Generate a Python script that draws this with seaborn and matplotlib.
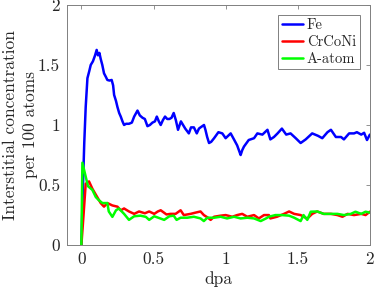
import pandas as pd
import matplotlib
matplotlib.use("Agg")
import matplotlib.pyplot as plt
import seaborn as sns

# Fe series
fe_x = [0, 0.01, 0.02, 0.03, 0.042, 0.055, 0.065, 0.08, 0.095, 0.106, 0.115, 0.125, 0.134, 0.145,
        0.157, 0.17, 0.18, 0.195, 0.21, 0.22, 0.227, 0.24, 0.25, 0.262, 0.273, 0.285, 0.296, 0.31,
        0.33, 0.35, 0.366, 0.389, 0.405, 0.424, 0.44, 0.458, 0.475, 0.493, 0.51, 0.523, 0.537, 0.55,
        0.565, 0.58, 0.595, 0.61, 0.625, 0.64, 0.655, 0.67, 0.69, 0.705, 0.72, 0.745, 0.76, 0.78,
        0.80, 0.815, 0.826, 0.85, 0.86, 0.872, 0.885, 0.9, 0.92, 0.95, 0.977, 1.0, 1.035, 1.06,
        1.08, 1.095, 1.104, 1.115, 1.127, 1.16, 1.197, 1.22, 1.255, 1.29, 1.31, 1.335, 1.36, 1.39,
        1.42, 1.45, 1.486, 1.52, 1.555, 1.60, 1.64, 1.67, 1.706, 1.73, 1.764, 1.80, 1.82, 1.856,
        1.89, 1.91, 1.94, 1.96, 1.98, 2.0]
fe_y = [0, 0.45, 0.85, 1.15, 1.39, 1.45, 1.5, 1.53, 1.58, 1.625, 1.58, 1.6, 1.55, 1.5,
        1.43, 1.4, 1.375, 1.37, 1.375, 1.33, 1.25, 1.2, 1.15, 1.1, 1.07, 1.03, 1.0, 1.01,
        1.01, 1.02, 1.07, 1.12, 1.08, 1.06, 1.05, 0.99, 1.0, 1.02, 1.03, 1.07, 1.03, 1.0,
        1.04, 1.07, 1.05, 1.05, 1.06, 1.1, 1.04, 0.96, 1.03, 1.0, 0.97, 0.93, 0.98, 0.98,
        0.93, 0.97, 0.98, 1.0, 0.96, 0.9, 0.85, 0.86, 0.89, 0.94, 0.93, 0.89, 0.93, 0.875,
        0.83, 0.78, 0.75, 0.79, 0.82, 0.875, 0.89, 0.93, 0.92, 0.96, 0.88, 0.9, 0.93, 0.97,
        0.92, 0.93, 0.89, 0.85, 0.88, 0.93, 0.91, 0.89, 0.94, 0.96, 0.90, 0.90, 0.88, 0.93,
        0.93, 0.94, 0.92, 0.935, 0.875, 0.92]

# CrCoNi series
cr_x = [0, 0.015, 0.03, 0.053, 0.076, 0.1, 0.134, 0.157, 0.18, 0.215, 0.25, 0.273, 0.296, 0.33,
        0.366, 0.40, 0.44, 0.47, 0.505, 0.53, 0.55, 0.59, 0.618, 0.653, 0.688, 0.71, 0.757, 0.79,
        0.826, 0.849, 0.875, 0.896, 0.92, 0.965, 1.0, 1.046, 1.08, 1.115, 1.15, 1.197, 1.23, 1.266,
        1.3, 1.31, 1.356, 1.405, 1.44, 1.475, 1.52, 1.566, 1.6, 1.635, 1.68, 1.73, 1.775, 1.81,
        1.845, 1.89, 1.94, 1.97, 2.0]
cr_y = [0, 0.25, 0.51, 0.53, 0.47, 0.42, 0.35, 0.32, 0.35, 0.33, 0.32, 0.29, 0.305, 0.28,
        0.26, 0.28, 0.265, 0.28, 0.26, 0.28, 0.29, 0.255, 0.26, 0.26, 0.29, 0.25, 0.26, 0.27,
        0.28, 0.25, 0.23, 0.21, 0.236, 0.245, 0.25, 0.236, 0.25, 0.26, 0.236, 0.25, 0.222, 0.25,
        0.25, 0.222, 0.236, 0.26, 0.28, 0.26, 0.25, 0.22, 0.26, 0.28, 0.26, 0.26, 0.25, 0.236,
        0.26, 0.25, 0.26, 0.25, 0.278]

# A-atom series
ga_x = [0, 0.007, 0.03, 0.046, 0.076, 0.1, 0.12, 0.146, 0.18, 0.19, 0.215, 0.24, 0.26, 0.296,
        0.33, 0.366, 0.41, 0.447, 0.47, 0.505, 0.54, 0.574, 0.61, 0.64, 0.66, 0.688, 0.734, 0.78,
        0.826, 0.849, 0.873, 0.92, 0.965, 1.01, 1.058, 1.104, 1.15, 1.197, 1.243, 1.28, 1.3,
        1.345, 1.39, 1.44, 1.475, 1.52, 1.54, 1.566, 1.59, 1.635, 1.68, 1.73, 1.775, 1.82, 1.868,
        1.9, 1.94, 1.97, 2.0]
ga_y = [0, 0.686, 0.57, 0.49, 0.46, 0.40, 0.375, 0.35, 0.35, 0.28, 0.235, 0.29, 0.305, 0.26,
        0.21, 0.24, 0.245, 0.235, 0.21, 0.24, 0.225, 0.21, 0.24, 0.245, 0.21, 0.228, 0.228, 0.236,
        0.222, 0.2, 0.228, 0.228, 0.236, 0.222, 0.236, 0.222, 0.228, 0.222, 0.2, 0.222, 0.236,
        0.25, 0.25, 0.245, 0.228, 0.2, 0.25, 0.21, 0.278, 0.28, 0.26, 0.26, 0.26, 0.25, 0.26,
        0.278, 0.26, 0.278, 0.27]

x_ticks = [0, 0.5, 1, 1.5, 2]
y_ticks = [0, 0.5, 1, 1.5, 2]

sns.set_style("white")
plt.rcParams['font.family'] = ['cmr10', 'DejaVu Serif']
plt.rcParams['axes.formatter.use_mathtext'] = True
plt.rcParams['mathtext.fontset'] = 'cm'

fig = plt.figure(figsize=(3.74, 2.87), dpi=100)
ax = fig.add_axes([0.179, 0.146, 0.81, 0.837])

series = [("Fe", fe_x, fe_y, (0, 0, 1)),
          ("CrCoNi", cr_x, cr_y, (1, 0, 0)),
          ("A-atom", ga_x, ga_y, (0, 1, 0))]
for name, xs, ys, col in series:
    df = pd.DataFrame({"dpa": xs, "c": ys})
    sns.lineplot(data=df, x="dpa", y="c", ax=ax, color=col, lw=1.8, label=name)

ax.set_xlim(-0.1, 2)
ax.set_ylim(0, 2)
ax.set_xticks(x_ticks)
ax.set_xticklabels(["0", "0.5", "1", "1.5", "2"])
ax.set_yticks(y_ticks)
ax.set_yticklabels(["0", "0.5", "1", "1.5", "2"])
ax.tick_params(direction="in", length=3, width=0.6, top=True, right=True,
               labelsize=12.5, colors="0.5", labelcolor="0.15", pad=5)
for s in ax.spines.values():
    s.set_color("0.5")
    s.set_linewidth(0.7)

ax.set_xlabel("dpa", fontsize=12.5, color="0.15", labelpad=2.5)
ax.set_ylabel("Interstitial concentration\nper 100 atoms", fontsize=12.5, color="0.15",
              labelpad=0, linespacing=1.35)

leg = ax.legend(loc="upper right", fontsize=10.5, frameon=True, fancybox=False,
                edgecolor="0.5", framealpha=1, handlelength=1.45, handletextpad=0.25,
                borderpad=0.25, labelspacing=0.2, borderaxespad=0.7)
leg.get_frame().set_linewidth(0.7)

fig.savefig("out.png", dpi=100)
